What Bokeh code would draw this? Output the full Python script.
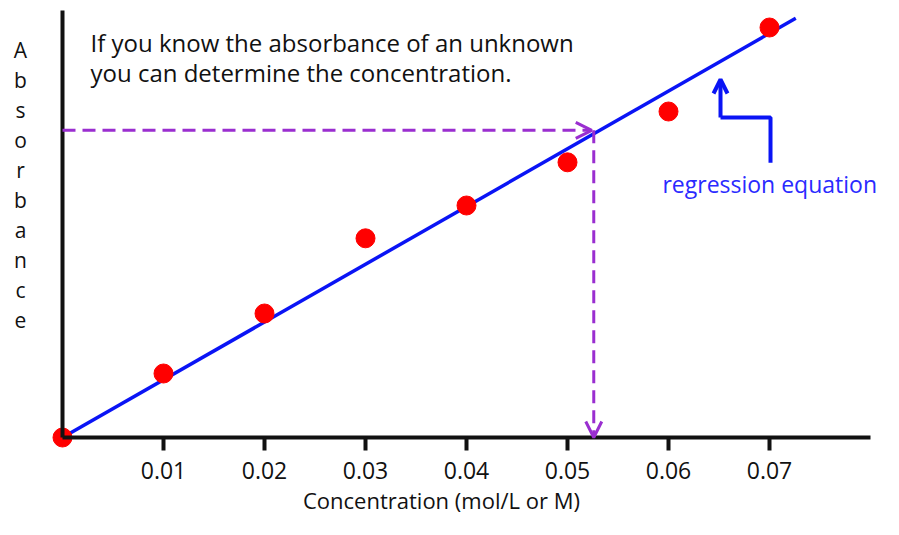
from bokeh.plotting import figure
from bokeh.models import Range1d, Label, Arrow, OpenHead, FixedTicker, NumeralTickFormatter
from bokeh.embed import file_html
from bokeh.resources import INLINE

# ---- data ----
concentration = [0.0, 0.01, 0.02, 0.03, 0.04, 0.05, 0.06, 0.07]
absorbance = [0.0, 0.08, 0.155, 0.249, 0.29, 0.344, 0.4075, 0.5125]
regression_x = [0.0, 0.0726]
regression_y = [0.0, 0.524]
unknown_conc = 0.0526
unknown_abs = 0.384
x_ticks = [0.01, 0.02, 0.03, 0.04, 0.05, 0.06, 0.07]
title_text = "If you know the absorbance of an unknown\nyou can determine the concentration."
x_label = "Concentration (mol/L or M)"
y_label = "Absorbance"
pointer_text = "regression equation"

FONT = "Open Sans"
PURPLE = "#9a2ed0"
BLUE = "#0a14f5"
INK = "#111111"

p = figure(width=883, height=519, output_backend="svg", toolbar_location=None,
           x_range=Range1d(-0.0061386, 0.0812871), y_range=Range1d(-0.1025, 0.54625),
           min_border_left=0, min_border_right=0, min_border_top=0, min_border_bottom=0)
p.outline_line_color = None
p.xgrid.visible = False
p.ygrid.visible = False
p.background_fill_color = "white"
p.border_fill_color = "white"

# x axis (crosses at the origin)
xa = p.xaxis[0]
xa.fixed_location = 0
xa.bounds = (0, 0.08)
xa.ticker = FixedTicker(ticks=x_ticks)
xa.formatter = NumeralTickFormatter(format="0.00")
xa.axis_line_width = 4
xa.axis_line_color = INK
xa.major_tick_in = 0
xa.major_tick_out = 13
xa.major_tick_line_width = 4
xa.major_tick_line_color = INK
xa.minor_tick_line_color = None
xa.major_label_standoff = 11
xa.major_label_text_font = FONT
xa.major_label_text_font_size = "23px"
xa.major_label_text_color = INK

# y axis (no ticks)
ya = p.yaxis[0]
ya.fixed_location = 0
ya.bounds = (0, 0.534)
ya.ticker = FixedTicker(ticks=[])
ya.axis_line_width = 4
ya.axis_line_color = INK
ya.major_tick_line_color = None
ya.minor_tick_line_color = None
ya.major_label_text_font_size = "0px"

# regression line
p.line(regression_x, regression_y, line_color=BLUE, line_width=3.5)

# dashed read-off arrows
p.add_layout(Arrow(x_start=0, y_start=unknown_abs, x_end=unknown_conc - 0.0002, y_end=unknown_abs,
                   line_color=PURPLE, line_width=3, line_dash="13 7",
                   end=OpenHead(size=16, line_color=PURPLE, line_width=3)))
p.add_layout(Arrow(x_start=unknown_conc, y_start=unknown_abs, x_end=unknown_conc, y_end=0.0,
                   line_color=PURPLE, line_width=3, line_dash="13 7",
                   end=OpenHead(size=16, line_color=PURPLE, line_width=3)))

# data points
p.scatter(concentration, absorbance, size=19, fill_color="#ff0000", line_color="#ff0000")

# pointer to the regression line
p.line([0.0701, 0.0701, 0.06515], [0.3435, 0.4, 0.4], line_color=BLUE, line_width=4)
p.add_layout(Arrow(x_start=0.06515, y_start=0.4, x_end=0.06515, y_end=0.4475,
                   line_color=BLUE, line_width=4,
                   end=OpenHead(size=14, line_color=BLUE, line_width=4)))

p.add_layout(Label(x=0.0594, y=0.3175, text=pointer_text, text_baseline="middle", text_align="left",
                   text_font=FONT, text_font_size="23px", text_color="#2a2aff"))

p.add_layout(Label(x=0.00277, y=0.475, text=title_text, text_baseline="middle", text_align="left",
                   text_font=FONT, text_font_size="24px", text_color=INK, text_line_height=0.92))

p.add_layout(Label(x=-0.00416, y=0.3156, text="\n".join(y_label), text_baseline="middle", text_align="center",
                   text_font=FONT, text_font_size="21px", text_color=INK, text_line_height=1.07))

p.add_layout(Label(x=0.03752, y=-0.0785, text=x_label, text_baseline="middle", text_align="center",
                   text_font=FONT, text_font_size="22px", text_color=INK))

open("out.html", "w").write(file_html(p, INLINE))
